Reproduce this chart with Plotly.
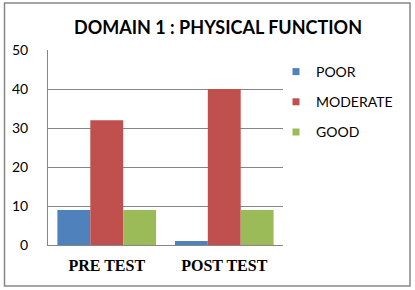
import plotly.graph_objects as go

categories = ["PRE TEST", "POST TEST"]
series_names = ["POOR", "MODERATE", "GOOD"]
poor = [9, 1]
moderate = [32, 40]
good = [9, 9]
colors = ["#4F81BD", "#C0504D", "#9BBB59"]

W, H = 415, 290
L, R, T, B = 48, 283, 50, 245  # plot area in px
pw, ph = R - L, B - T

def px_x(p):
    return (p - L) / pw

def px_y(p):
    return (B - p) / ph

fig = go.Figure()
for i, (name, vals) in enumerate(zip(series_names, [poor, moderate, good])):
    fig.add_trace(go.Bar(
        x=categories, y=vals, name=name, marker_color=colors[i],
        marker_line_width=0, showlegend=False,
    ))
# legend entries with small square keys
for i, name in enumerate(series_names):
    fig.add_trace(go.Scatter(
        x=[None], y=[None], mode="markers", name=name, legendgroup=name,
        marker=dict(symbol="square", size=7, color=colors[i]),
    ))

fig.update_layout(
    width=W, height=H,
    margin=dict(l=L, r=W - R, t=T, b=H - B, pad=0, autoexpand=False),
    paper_bgcolor="white", plot_bgcolor="white",
    barmode="group", bargap=0.16, bargroupgap=0,
    title=dict(text="<b>DOMAIN 1 : PHYSICAL FUNCTION</b>",
               font=dict(family="Lato", size=18, color="black"),
               x=218 / W, xanchor="center", xref="container",
               y=1 - 28 / H, yanchor="middle", yref="container"),
    showlegend=True,
    legend=dict(x=px_x(276), xanchor="left", y=px_y(56), yanchor="top",
                font=dict(family="Lato", size=14, color="black"),
                itemsizing="trace",
                tracegroupgap=9, bgcolor="rgba(0,0,0,0)"),
    shapes=[dict(type="rect", xref="paper", yref="paper",
                 x0=px_x(4.5), x1=px_x(410), y0=px_y(286), y1=px_y(3),
                 line=dict(color="#868686", width=1.5), layer="below")],
)
fig.update_xaxes(showline=True, linecolor="#868686", linewidth=1,
                 ticks="", tickfont=dict(family="Liberation Serif", size=16, color="black",
                                         weight="bold"),
                 ticklabelstandoff=6)
fig.update_yaxes(range=[0, 50], dtick=10, showgrid=True, gridcolor="#868686", gridwidth=1,
                 showline=True, linecolor="#868686", linewidth=1, zeroline=False,
                 ticks="", tickfont=dict(family="Lato", size=14, color="black"),
                 ticklabelstandoff=16)

fig.write_html("out.html", config={"displayModeBar": False},
               post_script="document.body.style.margin='0';document.body.style.overflow='hidden';")
